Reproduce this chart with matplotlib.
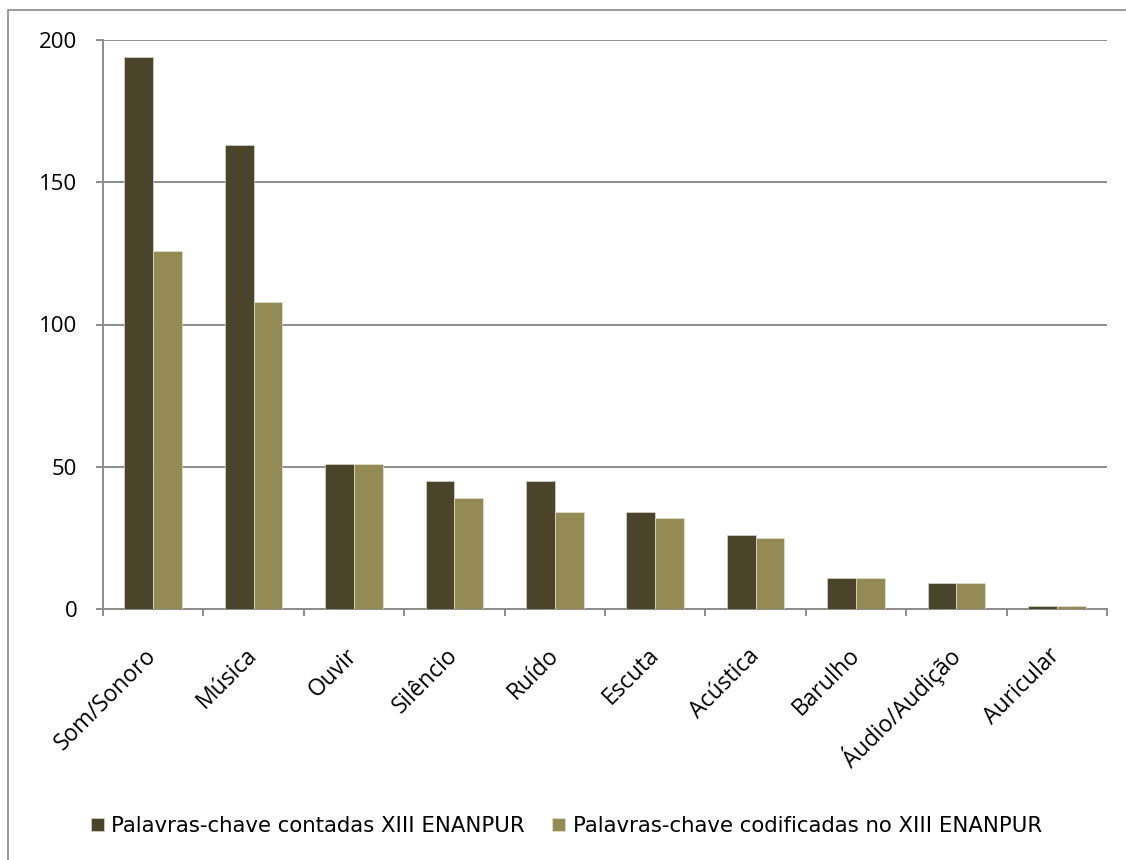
import numpy as np
import matplotlib.pyplot as plt
from matplotlib.patches import Rectangle

categories = ['Som/Sonoro', 'Música', 'Ouvir', 'Silêncio', 'Ruído', 'Escuta',
              'Acústica', 'Barulho', 'Áudio/Audição', 'Auricular']
contadas = [194, 163, 51, 45, 45, 34, 26, 11, 9, 1]
codificadas = [126, 108, 51, 39, 34, 32, 25, 11, 9, 1]
series_names = ['Palavras-chave contadas XIII ENANPUR',
                'Palavras-chave codificadas no XIII ENANPUR']
yticks = [0, 50, 100, 150, 200]

dark = '#4A452A'
light = '#948A54'
grid_grey = '#8C8C8C'
label_font = ['Open Sans', 'DejaVu Sans']

fig = plt.figure(figsize=(11.26, 8.6), dpi=100)
ax = fig.add_axes([103 / 1126, 1 - 609 / 860, (1107 - 103) / 1126, (609 - 40) / 860])

x = np.arange(len(categories))
w = 0.286
ax.bar(x - w / 2, contadas, width=w, color=dark, edgecolor='#D8D6CC', linewidth=0.5,
       label=series_names[0], zorder=3)
ax.bar(x + w / 2, codificadas, width=w, color=light, edgecolor='#E4E1D2', linewidth=0.5,
       label=series_names[1], zorder=3)

ax.set_xlim(-0.5, len(categories) - 0.5)
ax.set_ylim(0, 200)
ax.set_yticks(yticks)
ax.yaxis.grid(True, color=grid_grey, linewidth=1.4, zorder=0)

for side in ['top', 'right']:
    ax.spines[side].set_visible(False)
for side in ['left', 'bottom']:
    ax.spines[side].set_color(grid_grey)
    ax.spines[side].set_linewidth(1.4)

# category separators as ticks below the axis
ax.set_xticks(np.arange(-0.5, len(categories), 1.0))
ax.set_xticklabels([])
ax.set_xticks(x, minor=True)
ax.set_xticklabels(categories, minor=True, rotation=45, ha='right', va='center',
                   rotation_mode='anchor', fontsize=16.5, family=label_font)
ax.tick_params(axis='x', which='major', direction='out', length=5, width=1.4, color=grid_grey)
ax.tick_params(axis='x', which='minor', length=0, pad=31)
ax.tick_params(axis='y', direction='out', length=5, width=1.4, color=grid_grey, pad=13.5)
for lbl in ax.get_yticklabels():
    lbl.set_fontsize(16)
    lbl.set_family(label_font)

leg = fig.legend(loc='center', bbox_to_anchor=(0.503, 1 - 826 / 860), ncol=2, frameon=False,
                 handlelength=0.6, handleheight=0.6, handletextpad=0.35, columnspacing=1.3,
                 prop={'family': 'DejaVu Sans', 'size': 15.3})

# outer chart frame
fig.patches.append(Rectangle((8 / 1126, -0.1), 1.2, 1 - 10 / 860 + 0.1,
                             transform=fig.transFigure, fill=False,
                             edgecolor='#8C8C8C', linewidth=1.2, clip_on=False))

fig.savefig('out.png', dpi=100)
